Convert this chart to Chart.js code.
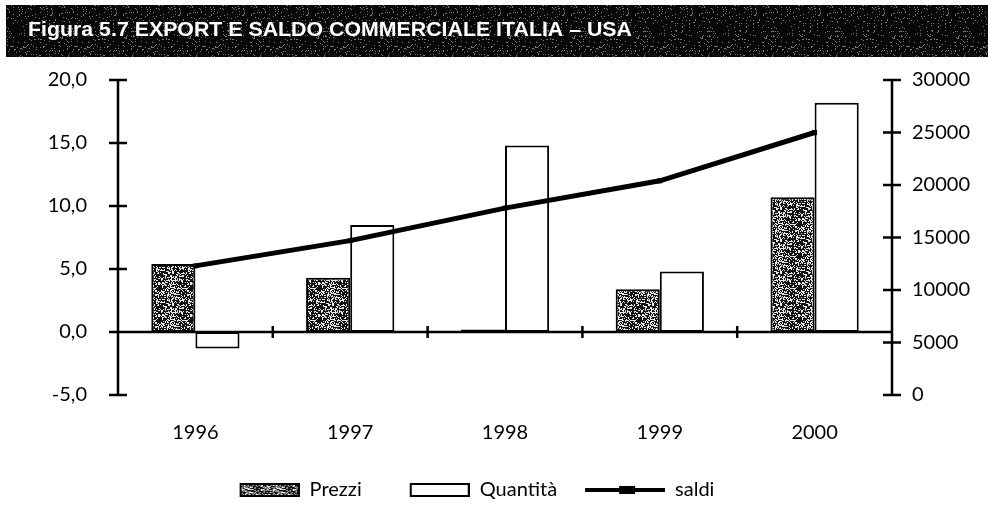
<!DOCTYPE html>
<html><head><meta charset="utf-8">
<script src="https://cdn.jsdelivr.net/npm/chart.js@4.4.0/dist/chart.umd.min.js"></script>
<style>html,body{margin:0;padding:0;background:#fff;}canvas{display:block;}</style>
</head><body>
<canvas id="c" width="988" height="506"></canvas>
<script>
// ---- data ----
const titleText = 'Figura 5.7 EXPORT E SALDO COMMERCIALE ITALIA – USA';
const years = ['1996', '1997', '1998', '1999', '2000'];
const prezzi = [5.4, 4.3, 0.2, 3.4, 10.7];
const quantita = [-1.3, 8.5, 14.8, 4.8, 18.2];
const saldi = [12300, 14700, 17800, 20400, 25000];
const seriesNames = ['Prezzi', 'Quantità', 'saldi'];
const leftRange = [-5, 20, 5];
const rightRange = [0, 30000, 5000];

// ---- textures ----
function hash(x, y, s) { const v = Math.sin(x * 12.9898 + y * 78.233 + s) * 43758.5453; return v - Math.floor(v); }
function speckle(w, h, base, dot, thr, seed) {
  const c = document.createElement('canvas'); c.width = w; c.height = h;
  const g = c.getContext('2d'); g.fillStyle = base; g.fillRect(0, 0, w, h); g.fillStyle = dot;
  for (let y = 0; y < h; y++) for (let x = 0; x < w; x++) if (hash(x, y, seed) < thr) g.fillRect(x, y, 1, 1);
  return c;
}
const ctx0 = document.getElementById('c').getContext('2d');
const prezziPattern = ctx0.createPattern(speckle(32, 32, '#111', '#e8e8e8', 0.36, 1.7), 'repeat');
const bandPattern = ctx0.createPattern(speckle(64, 64, '#080808', '#7a7a7a', 0.07, 3.1), 'repeat');

const SLOT = 98;
function symBox(fill) {
  const c = document.createElement('canvas'); c.width = SLOT; c.height = 14;
  const g = c.getContext('2d'); g.fillStyle = fill; g.fillRect(SLOT - 59, 1, 58, 12);
  g.strokeStyle = '#000'; g.lineWidth = 2; g.strokeRect(SLOT - 59, 1, 58, 12); return c;
}
const symPrezzi = symBox(prezziPattern);
const symQuant = symBox('#fff');
const symSaldi = (() => {
  const c = document.createElement('canvas'); c.width = SLOT; c.height = 14;
  const g = c.getContext('2d'); g.fillStyle = '#000'; g.fillRect(SLOT - 80, 5, 80, 4); g.fillRect(SLOT - 46, 3, 16, 8); return c;
})();
const legendSyms = [symPrezzi, symQuant, symSaldi];

const FONT = 'Lato';

// ---- plugins ----
const titlePlugin = {
  id: 'titleBand',
  beforeDraw(chart) {
    const g = chart.ctx; g.save();
    g.fillStyle = bandPattern; g.fillRect(6, 5, 982, 52);
    g.fillStyle = '#fff'; g.font = 'bold 21px "Liberation Sans Narrow", "Liberation Sans", sans-serif';
    g.textBaseline = 'middle'; g.textAlign = 'left';
    const w = g.measureText(titleText).width, target = 604;
    g.translate(28, 30); g.scale(target / w, 1);
    g.fillText(titleText, 0, 0);
    g.restore();
  }
};
const axesPlugin = {
  id: 'axesDraw',
  afterDatasetsDraw(chart) {
    const g = chart.ctx, y = chart.scales.y, y1 = chart.scales.y1, x = chart.scales.x, a = chart.chartArea;
    g.save(); g.strokeStyle = '#000'; g.lineWidth = 2.5; g.lineCap = 'butt';
    const yTop = y.getPixelForValue(leftRange[1]), yBot = y.getPixelForValue(leftRange[0]);
    g.beginPath(); g.moveTo(a.left, yTop); g.lineTo(a.left, yBot);
    y.ticks.forEach(t => { const p = y.getPixelForValue(t.value); g.moveTo(a.left - 9, p); g.lineTo(a.left + 9, p); });
    g.moveTo(a.right, y1.getPixelForValue(rightRange[1])); g.lineTo(a.right, y1.getPixelForValue(rightRange[0]));
    y1.ticks.forEach(t => { const p = y1.getPixelForValue(t.value); g.moveTo(a.right - 9, p); g.lineTo(a.right + 9, p); });
    const z = y.getPixelForValue(0);
    g.moveTo(a.left, z); g.lineTo(a.right, z);
    for (let i = 1; i < years.length; i++) {
      const p = (x.getPixelForValue(i - 1) + x.getPixelForValue(i)) / 2;
      g.moveTo(p, z - 6); g.lineTo(p, z + 6);
    }
    g.stroke(); g.restore();
  }
};
const legendShift = {
  id: 'legendShift',
  afterLayout(chart) { const L = chart.legend; if (L) { L.left -= 36; L.right -= 36; } }
};

Chart.defaults.font.family = FONT;
Chart.defaults.color = '#000';

new Chart(document.getElementById('c'), {
  type: 'bar',
  data: {
    labels: years,
    datasets: [
      { label: seriesNames[0], data: prezzi, backgroundColor: prezziPattern, borderColor: '#000', borderWidth: 2, yAxisID: 'y', order: 1, categoryPercentage: 0.57, barPercentage: 1.0, borderSkipped: false },
      { label: seriesNames[1], data: quantita, backgroundColor: '#fff', borderColor: '#000', borderWidth: 2, yAxisID: 'y', order: 1, categoryPercentage: 0.57, barPercentage: 1.0, borderSkipped: false },
      { type: 'line', label: seriesNames[2], data: saldi, yAxisID: 'y1', borderColor: '#000', backgroundColor: '#000', borderWidth: 5, tension: 0, pointStyle: 'rect', pointRadius: 3.5, pointBorderWidth: 0, pointBackgroundColor: '#000', order: 0 }
    ]
  },
  options: {
    responsive: false, animation: false, devicePixelRatio: 1,
    layout: { padding: { top: 80, right: 0, bottom: -4, left: 0 } },
    scales: {
      x: {
        grid: { display: false, drawTicks: false }, border: { display: false },
        ticks: { font: { size: 20 }, color: '#000', padding: 26 },
        afterFit(s) { s.height = 75; }
      },
      y: {
        position: 'left', min: leftRange[0], max: leftRange[1],
        grid: { display: false, drawTicks: false }, border: { display: false },
        ticks: { stepSize: leftRange[2], font: { size: 20 }, color: '#000', padding: 31,
          callback: v => v.toFixed(1).replace('.', ',') },
        afterFit(s) { s.width = 118; }
      },
      y1: {
        position: 'right', min: rightRange[0], max: rightRange[1],
        grid: { display: false, drawTicks: false }, border: { display: false },
        ticks: { stepSize: rightRange[2], font: { size: 20 }, color: '#000', padding: 20, callback: v => String(v) },
        afterFit(s) { s.width = 96; }
      }
    },
    plugins: {
      tooltip: { enabled: false },
      legend: {
        position: 'bottom',
        labels: {
          usePointStyle: true, pointStyleWidth: SLOT, boxHeight: 14, padding: 10,
          font: { size: 20 }, color: '#000',
          sort: (a, b) => a.datasetIndex - b.datasetIndex,
          generateLabels(chart) {
            const items = Chart.defaults.plugins.legend.labels.generateLabels(chart);
            items.forEach(it => { it.pointStyle = legendSyms[it.datasetIndex]; });
            return items;
          }
        }
      }
    }
  },
  plugins: [titlePlugin, axesPlugin, legendShift]
});
</script>
</body></html>
